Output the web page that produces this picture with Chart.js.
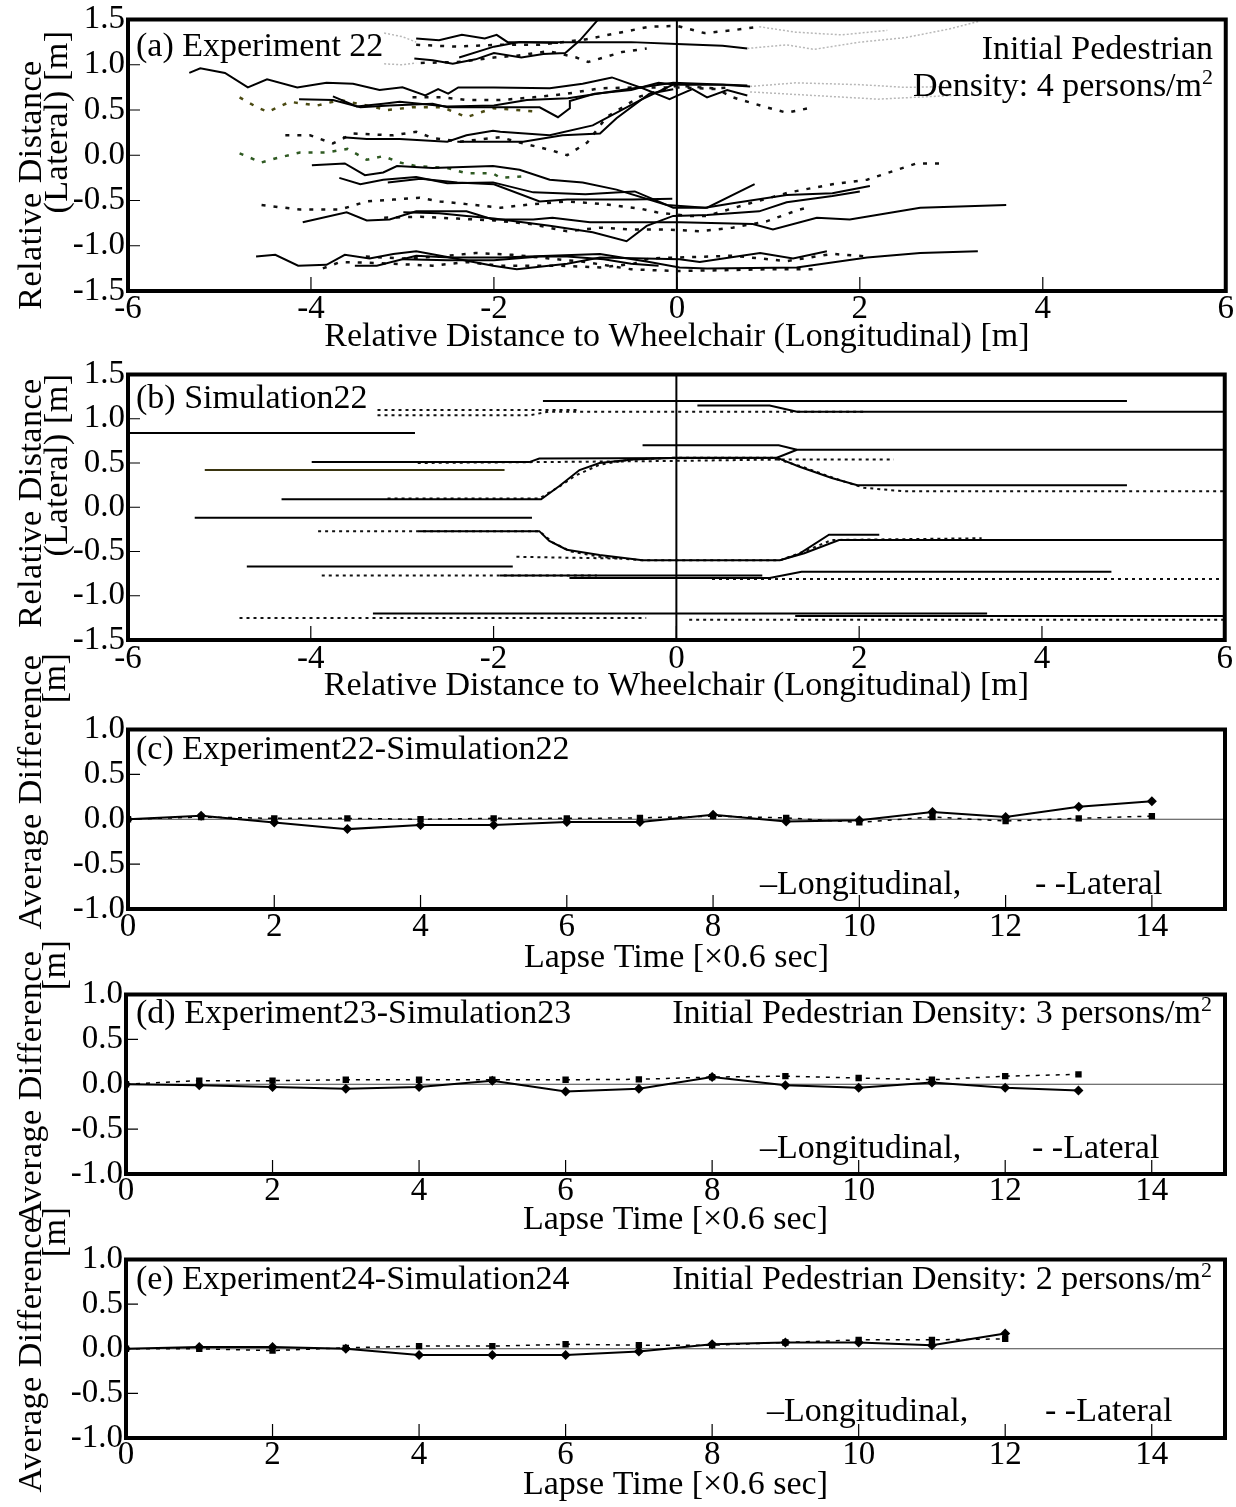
<!doctype html>
<html>
<head>
<meta charset="utf-8">
<script src="https://cdn.jsdelivr.net/npm/chart.js@4.4.1/dist/chart.umd.min.js"></script>
<style>
* { margin:0; padding:0; box-sizing:border-box; }
html,body { width:1236px; height:1507px; overflow:hidden; background:#fff;
  font-family:'Liberation Serif','Times New Roman',serif; color:#000; }
canvas { position:absolute; left:0; }
.t { position:absolute; white-space:nowrap; font-size:34px; line-height:1; }
.r { text-align:right; }
.rot { transform:translate(-50%,-50%) rotate(-90deg); letter-spacing:0.5px; }
sup { font-size:22px; vertical-align:12px; line-height:0; }
</style>
</head>
<body>
<canvas id="pa" width="1236" height="355" style="top:0px"></canvas>
<canvas id="pb" width="1236" height="355" style="top:355px"></canvas>
<canvas id="pc" width="1236" height="265" style="top:710px"></canvas>
<canvas id="pd" width="1236" height="265" style="top:975px"></canvas>
<canvas id="pe" width="1236" height="267" style="top:1240px"></canvas>

<!-- y axis titles -->
<div class="t rot" style="left:30px;top:185px">Relative Distance</div>
<div class="t rot" style="left:56px;top:122px">(Lateral) [m]</div>
<div class="t rot" style="left:30px;top:503px">Relative Distance</div>
<div class="t rot" style="left:56px;top:465px">(Lateral) [m]</div>
<div class="t rot" style="left:30px;top:792px">Average Difference</div>
<div class="t rot" style="left:54px;top:678px">[m]</div>
<div class="t rot" style="left:30px;top:1088px">Average Difference</div>
<div class="t rot" style="left:54px;top:965px">[m]</div>
<div class="t rot" style="left:30px;top:1355px">Average Difference</div>
<div class="t rot" style="left:54px;top:1232px">[m]</div>

<!-- panel notes -->
<div class="t" style="left:136px;top:28px">(a) Experiment 22</div>
<div class="t r" style="right:23px;top:31px">Initial Pedestrian</div>
<div class="t r" style="right:23px;top:68px">Density: 4 persons/m<sup>2</sup></div>
<div class="t" style="left:136px;top:380px">(b) Simulation22</div>
<div class="t" style="left:136px;top:731px">(c) Experiment22-Simulation22</div>
<div class="t" style="left:760px;top:866px">–Longitudinal,</div>
<div class="t" style="left:1035px;top:866px">- -Lateral</div>
<div class="t" style="left:136px;top:995px">(d) Experiment23-Simulation23</div>
<div class="t r" style="right:24px;top:995px">Initial Pedestrian Density: 3 persons/m<sup>2</sup></div>
<div class="t" style="left:760px;top:1130px">–Longitudinal,</div>
<div class="t" style="left:1032px;top:1130px">- -Lateral</div>
<div class="t" style="left:136px;top:1261px">(e) Experiment24-Simulation24</div>
<div class="t r" style="right:24px;top:1261px">Initial Pedestrian Density: 2 persons/m<sup>2</sup></div>
<div class="t" style="left:767px;top:1393px">–Longitudinal,</div>
<div class="t" style="left:1045px;top:1393px">- -Lateral</div>

<script>
// tick values
const posTicks = [-6, -4, -2, 0, 2, 4, 6];
const latTicks = [-1.5, -1.0, -0.5, 0.0, 0.5, 1.0, 1.5];
const lapseTicks = [0, 2, 4, 6, 8, 10, 12, 14];
const diffTicks = [-1.0, -0.5, 0.0, 0.5, 1.0];

// (a) experiment 22 trajectories, [longitudinal, lateral] in m
const expSolid = [
  [[-2.85,1.29],[-2.6,1.27],[-2.35,1.33],[-2.1,1.29],[-1.97,1.33],[-1.85,1.25],[-1.5,1.25],[-1.0,1.25],[-0.5,1.25],[0.0,1.23],[0.5,1.21],[0.77,1.18]],
  [[-2.87,1.07],[-2.67,1.05],[-2.45,1.01],[-2.2,1.06],[-2.0,1.13],[-1.7,1.08],[-1.46,1.12],[-1.22,1.13],[-1.06,1.27],[-0.86,1.5],[-0.82,1.56]],
  [[-2.38,1.08],[-2.0,1.2],[-1.72,1.25],[-1.3,1.24]],
  [[-5.33,0.91],[-5.21,0.96],[-4.94,0.91],[-4.69,0.75],[-4.48,0.84],[-4.15,0.75],[-3.83,0.8],[-3.54,0.79],[-3.25,0.72],[-3.0,0.75],[-2.75,0.66],[-2.61,0.73],[-2.5,0.68],[-2.39,0.75],[-2.0,0.75],[-1.39,0.74],[-1.03,0.79],[-0.71,0.86],[-0.4,0.75],[-0.04,0.8],[0.77,0.77]],
  [[-4.13,0.62],[-3.76,0.61],[-3.46,0.53],[-3.14,0.55],[-2.67,0.57],[-2.51,0.53],[-2.0,0.53],[-1.5,0.53],[-1.3,0.42],[-1.17,0.52],[-1.17,0.6],[-0.9,0.68],[-0.5,0.72],[-0.2,0.8],[0.0,0.78],[0.5,0.78],[0.8,0.76]],
  [[-3.76,0.65],[-3.5,0.54],[-3.21,0.57],[-3.03,0.59],[-2.51,0.54],[-2.0,0.55],[-1.64,0.61],[-1.19,0.63],[-0.6,0.72],[-0.4,0.75],[-0.08,0.62],[0.03,0.67],[0.17,0.73],[0.33,0.64],[0.55,0.72],[0.77,0.66]],
  [[-3.65,0.2],[-3.39,0.18],[-3.03,0.18],[-2.51,0.15],[-2.3,0.22],[-2.01,0.27],[-1.93,0.26],[-1.39,0.22],[-0.92,0.33],[-0.4,0.61],[0.0,0.8]],
  [[-2.4,0.15],[-2.01,0.15],[-1.68,0.15],[-1.25,0.22],[-0.84,0.24],[-0.66,0.41],[-0.3,0.68],[-0.04,0.73]],
  [[-3.99,-0.11],[-3.63,-0.09],[-3.41,-0.22],[-3.21,-0.19],[-3.06,-0.12],[-2.67,-0.14],[-2.01,-0.12],[-1.72,-0.16],[-1.39,-0.27],[-1.03,-0.3],[-0.66,-0.38],[-0.11,-0.55],[0.31,-0.58],[0.61,-0.53],[1.2,-0.44],[1.7,-0.42],[2.11,-0.34]],
  [[-3.69,-0.25],[-3.46,-0.32],[-3.21,-0.27],[-2.85,-0.24],[-2.51,-0.31],[-2.01,-0.3],[-1.57,-0.41],[-1.0,-0.43],[-0.62,-0.41],[-0.46,-0.4],[-0.04,-0.58],[0.33,-0.58],[0.85,-0.32]],
  [[-3.16,-0.3],[-2.8,-0.26],[-2.4,-0.3],[-2.0,-0.32],[-1.5,-0.51],[-1.2,-0.49],[-0.48,-0.49],[-0.05,-0.48]],
  [[-4.09,-0.74],[-3.61,-0.63],[-3.39,-0.72],[-3.14,-0.71],[-2.85,-0.62],[-2.3,-0.62],[-2.01,-0.71],[-1.57,-0.71],[-1.36,-0.69],[-0.95,-0.74],[-0.22,-0.74],[0.03,-0.74],[0.83,-0.76],[1.05,-0.82],[1.53,-0.69],[1.89,-0.71],[2.66,-0.58],[3.6,-0.55]],
  [[-2.99,-0.63],[-2.6,-0.64],[-2.3,-0.67],[-2.0,-0.7],[-1.39,-0.78],[-0.92,-0.85],[-0.55,-0.95],[-0.33,-0.78],[-0.04,-0.67],[0.33,-0.66],[0.9,-0.62],[1.2,-0.52],[1.7,-0.45],[2.0,-0.4]],
  [[-4.6,-1.12],[-4.39,-1.1],[-4.14,-1.22],[-3.83,-1.21],[-3.63,-1.1],[-3.36,-1.14],[-3.1,-1.09],[-2.85,-1.06],[-2.48,-1.13],[-1.93,-1.13],[-0.84,-1.09],[-0.3,-1.18],[0.03,-1.24],[0.33,-1.25],[1.31,-1.24],[2.08,-1.13],[2.66,-1.08],[3.29,-1.06]],
  [[-3.52,-1.22],[-3.28,-1.22],[-2.85,-1.11],[-2.48,-1.13],[-2.01,-1.22],[-1.75,-1.26],[-1.2,-1.2],[-0.84,-1.13],[0.03,-1.15],[0.25,-1.18],[0.91,-1.08],[1.27,-1.14],[1.64,-1.06]],
  [[-3.0,-1.15],[-2.5,-1.16],[-2.0,-1.16],[-1.5,-1.12],[-1.2,-1.12],[-0.8,-1.15],[-0.5,-1.2],[-0.2,-1.22]]
];
const expDashed = [
  [[-2.85,1.22],[-2.4,1.2],[-2.0,1.22],[-1.5,1.22],[-1.0,1.28],[-0.6,1.36],[-0.3,1.42],[0.0,1.43],[0.3,1.35],[0.6,1.38],[0.9,1.42]],
  [[-2.8,1.02],[-2.4,1.03],[-2.0,1.08],[-1.75,1.1],[-1.4,1.15],[-1.1,1.08],[-0.97,1.03],[-0.6,1.14],[-0.33,1.18]],
  [[-2.89,0.64],[-2.56,0.64],[-2.3,0.61],[-1.93,0.61],[-1.57,0.64],[-1.2,0.68],[-0.84,0.74],[-0.4,0.75],[0.03,0.75],[0.44,0.73],[0.61,0.64],[0.98,0.53],[1.2,0.47],[1.49,0.53]],
  [[-4.28,0.22],[-4.01,0.22],[-3.76,0.13],[-3.54,0.24],[-3.1,0.22],[-2.85,0.26],[-2.67,0.19],[-2.37,0.15],[-1.93,0.2],[-1.72,0.14],[-1.39,0.06],[-1.2,0.0],[-0.98,0.14],[-0.77,0.42],[-0.4,0.65],[0.0,0.77],[0.39,0.74],[0.61,0.75]],
  [[-4.54,-0.55],[-4.12,-0.6],[-3.68,-0.6],[-3.39,-0.51],[-3.1,-0.49],[-2.81,-0.47],[-2.59,-0.51],[-2.3,-0.54],[-1.93,-0.58],[-1.57,-0.54],[-1.2,-0.51],[-0.8,-0.54],[-0.4,-0.59],[-0.22,-0.63],[0.11,-0.67],[0.33,-0.67],[0.8,-0.53],[1.23,-0.41],[1.7,-0.32],[2.08,-0.27],[2.62,-0.09],[2.9,-0.09]],
  [[-3.2,-0.69],[-2.8,-0.68],[-2.4,-0.7],[-2.0,-0.72],[-1.6,-0.76],[-1.2,-0.84],[-0.84,-0.8],[-0.48,-0.82],[-0.11,-0.82],[0.25,-0.84],[0.61,-0.8],[0.98,-0.73],[1.34,-0.6],[1.42,-0.58]],
  [[-3.87,-1.25],[-3.68,-1.18],[-3.3,-1.19],[-3.1,-1.2],[-2.67,-1.22],[-2.3,-1.18],[-1.93,-1.22],[-1.3,-1.22],[-0.84,-1.24],[-0.48,-1.2],[-0.3,-1.14],[0.03,-1.13],[0.61,-1.11],[1.2,-1.17],[1.7,-1.09],[2.11,-1.12]],
  [[-3.4,-1.12],[-3.0,-1.14],[-2.6,-1.12],[-2.2,-1.08],[-1.8,-1.1],[-1.4,-1.14],[-1.0,-1.18],[-0.5,-1.26],[0.0,-1.28],[0.5,-1.27],[1.0,-1.26],[1.5,-1.26]]
];
const expOlive = [[-4.78,0.64],[-4.59,0.53],[-4.47,0.48],[-4.23,0.59],[-3.93,0.55],[-3.68,0.61],[-3.39,0.55],[-3.17,0.5],[-2.89,0.53],[-2.56,0.53],[-2.3,0.42],[-2.01,0.52],[-1.5,0.48]];
const expGreen = [[-4.78,0.02],[-4.54,-0.08],[-4.37,-0.03],[-4.12,0.03],[-3.83,0.03],[-3.6,0.07],[-3.39,-0.05],[-3.21,-0.01],[-3.03,-0.08],[-2.85,-0.12],[-2.51,-0.14],[-2.3,-0.2],[-2.01,-0.2],[-1.93,-0.25],[-1.64,-0.23]];
const expGray = [
  [[-3.2,1.35],[-3.0,1.31],[-2.85,1.25]],
  [[-3.2,1.01],[-3.0,1.0],[-2.85,1.02]],
  [[0.77,1.18],[1.2,1.22],[1.5,1.17],[2.0,1.25],[2.5,1.3],[3.0,1.4],[3.3,1.48]],
  [[0.9,1.42],[1.3,1.36],[1.8,1.33],[2.3,1.38]],
  [[0.8,0.76],[1.3,0.8],[2.0,0.78],[2.5,0.75],[3.0,0.76]],
  [[0.8,0.7],[1.5,0.66],[2.2,0.62],[3.0,0.66]]
];

// (b) simulation 22 trajectories
const simSolid = [
  [[-1.46,1.2],[4.93,1.2]],
  [[0.23,1.15],[1.02,1.15],[1.32,1.08],[6,1.08]],
  [[-6,0.84],[-2.86,0.84]],
  [[-0.37,0.7],[1.12,0.7],[1.32,0.65],[6,0.65]],
  [[-3.99,0.51],[-1.61,0.51],[-1.5,0.55],[1.1,0.56],[1.32,0.65]],
  [[-4.32,0.09],[-1.48,0.09],[-1.28,0.24],[-1.06,0.42],[-0.84,0.5],[-0.48,0.54],[0.0,0.56],[1.1,0.56],[1.34,0.46],[1.7,0.33],[1.98,0.25],[4.93,0.25]],
  [[-5.27,-0.12],[-1.58,-0.12]],
  [[-2.82,-0.27],[-1.5,-0.27],[-1.39,-0.38],[-1.2,-0.48],[-0.84,-0.54],[-0.37,-0.6],[1.13,-0.6],[1.34,-0.53],[1.67,-0.31],[2.22,-0.31]],
  [[1.13,-0.6],[1.4,-0.52],[1.78,-0.37],[6,-0.37]],
  [[-4.7,-0.67],[-1.79,-0.67]],
  [[-1.93,-0.77],[0.94,-0.77]],
  [[-1.17,-0.8],[1.02,-0.8],[1.37,-0.73],[4.76,-0.73]],
  [[-3.32,-1.2],[3.4,-1.2]],
  [[1.3,-1.23],[6,-1.23]]
];
const simOlive = [[-5.16,0.42],[-1.88,0.42]];
const simDashed = [
  [[-3.27,1.1],[-1.09,1.1]],
  [[-3.27,1.04],[-1.6,1.04],[-1.4,1.08],[2.08,1.08]],
  [[-2.83,0.5],[-0.33,0.52],[1.2,0.54],[2.38,0.54]],
  [[-3.16,0.1],[-1.5,0.1],[-1.3,0.22],[-1.1,0.36],[-0.84,0.48],[-0.5,0.54],[0.0,0.56],[1.05,0.56],[1.4,0.45],[1.75,0.32],[2.05,0.22],[2.5,0.18],[6,0.18]],
  [[-3.92,-0.27],[-1.5,-0.27],[-1.35,-0.4],[-1.15,-0.5],[-0.84,-0.56],[-0.37,-0.6],[1.13,-0.6],[1.4,-0.5],[1.7,-0.37],[3.34,-0.35]],
  [[-1.75,-0.56],[-0.6,-0.58]],
  [[-3.88,-0.77],[-0.87,-0.77]],
  [[0.39,-0.81],[6,-0.81]],
  [[-4.78,-1.25],[-0.33,-1.25]],
  [[0.14,-1.27],[6,-1.27]]
];

// (c)-(e) average differences per lapse step
const lapseC = [0,1,2,3,4,5,6,7,8,9,10,11,12,13,14];
const longC = [0.00,0.04,-0.035,-0.11,-0.065,-0.065,-0.03,-0.03,0.05,-0.025,-0.01,0.08,0.025,0.14,0.20];
const latC  = [0.00,0.025,0.01,0.01,0.00,0.01,0.01,0.015,0.035,0.015,-0.035,0.025,-0.02,0.01,0.035];
const lapseD = [0,1,2,3,4,5,6,7,8,9,10,11,12,13];
const longD = [0.00,-0.01,-0.03,-0.05,-0.03,0.04,-0.08,-0.05,0.08,-0.01,-0.04,0.02,-0.04,-0.07];
const latD  = [0.00,0.04,0.04,0.05,0.05,0.05,0.05,0.055,0.08,0.09,0.07,0.05,0.09,0.11];
const lapseE = [0,1,2,3,4,5,6,7,8,9,10,11,12];
const longE = [0.00,0.02,0.02,0.00,-0.07,-0.07,-0.07,-0.03,0.05,0.07,0.07,0.04,0.17];
const latE  = [0.00,0.00,-0.02,0.01,0.03,0.03,0.05,0.04,0.04,0.07,0.10,0.10,0.11];

const FAMILY = "'Liberation Serif','Times New Roman',serif";
const tickFont = { family: FAMILY, size: 33, lineHeight: 1 };
const titleFont = { family: FAMILY, size: 34, lineHeight: 1 };

// frame, inward ticks and the zero reference line
const frame = {
  id: 'frame',
  beforeDatasetsDraw(chart, args, o) {
    const { ctx, chartArea: a, scales: { x, y } } = chart;
    ctx.save();
    ctx.strokeStyle = '#000';
    if (o.zeroX) {
      ctx.lineWidth = 2;
      const px = x.getPixelForValue(0);
      ctx.beginPath(); ctx.moveTo(px, a.top); ctx.lineTo(px, a.bottom); ctx.stroke();
    }
    if (o.zeroY) {
      ctx.lineWidth = 1.2; ctx.strokeStyle = '#444';
      const py = y.getPixelForValue(0);
      ctx.beginPath(); ctx.moveTo(a.left, py); ctx.lineTo(a.right, py); ctx.stroke();
    }
    ctx.restore();
  },
  afterDatasetsDraw(chart) {
    const { ctx, chartArea: a, scales: { x, y } } = chart;
    ctx.save();
    ctx.strokeStyle = '#000';
    ctx.lineWidth = 1.2;
    ctx.beginPath();
    x.ticks.forEach(t => { const px = x.getPixelForValue(t.value); ctx.moveTo(px, a.bottom); ctx.lineTo(px, a.bottom - 14); });
    y.ticks.forEach(t => { const py = y.getPixelForValue(t.value); ctx.moveTo(a.left, py); ctx.lineTo(a.left + 12, py); });
    ctx.stroke();
    ctx.lineWidth = 4;
    ctx.strokeRect(a.left, a.top, a.right - a.left, a.bottom - a.top);
    ctx.restore();
  }
};

const toPts = arr => arr.map(([x, y]) => ({ x, y }));
const track = (arr, style) => Object.assign({ data: toPts(arr), showLine: true, pointRadius: 0, tension: 0, fill: false }, style);
const series = (xs, ys, style) => Object.assign({ data: xs.map((x, i) => ({ x, y: ys[i] })), showLine: true, tension: 0, fill: false }, style);

function panel(id, c) {
  return new Chart(document.getElementById(id), {
    type: 'scatter',
    data: { datasets: c.datasets },
    options: {
      responsive: false, animation: false, events: [],
      layout: { padding: { top: c.top, right: c.right, left: 0, bottom: 0 } },
      plugins: { legend: { display: false }, tooltip: { enabled: false }, frame: { zeroX: c.zeroX, zeroY: c.zeroY } },
      scales: {
        x: {
          type: 'linear', min: c.xMin, max: c.xMax,
          afterBuildTicks: s => { s.ticks = c.xTicks.map(v => ({ value: v })); },
          afterFit: s => { s.height = c.xH; },
          grid: { display: false, drawTicks: false }, border: { display: false },
          ticks: { color: '#000', font: tickFont, padding: c.xPad, maxRotation: 0, autoSkip: false, callback: v => String(v) },
          title: { display: true, text: c.xTitle, color: '#000', font: titleFont, padding: { top: 0, bottom: c.titlePad } }
        },
        y: {
          type: 'linear', min: c.yMin, max: c.yMax,
          afterBuildTicks: s => { s.ticks = c.yTicks.map(v => ({ value: v })); },
          afterFit: s => { s.width = c.left; },
          grid: { display: false, drawTicks: false }, border: { display: false },
          ticks: { color: '#000', font: tickFont, padding: 3, autoSkip: false, callback: v => Number(v).toFixed(1) }
        }
      }
    },
    plugins: [frame]
  });
}

const sSolid = { borderColor: '#000', borderWidth: 2 };
const sDash = { borderColor: '#111', borderWidth: 2.5, borderDash: [4, 8] };
const sGray = { borderColor: '#b8b8b8', borderWidth: 1.5, borderDash: [2, 2] };
const bDash = { borderColor: '#111', borderWidth: 2, borderDash: [3, 4] };

const posTitle = 'Relative Distance to Wheelchair (Longitudinal) [m]';
const lapseTitle = 'Lapse Time [\u00d70.6 sec]';

panel('pa', {
  top: 19, right: 10, left: 128, xH: 64, xPad: 2, titlePad: 1,
  xMin: -6, xMax: 6, yMin: -1.5, yMax: 1.5, xTicks: posTicks, yTicks: latTicks, xTitle: posTitle, zeroX: true,
  datasets: [
    ...expGray.map(t => track(t, sGray)),
    ...expSolid.map(t => track(t, sSolid)),
    ...expDashed.map(t => track(t, sDash)),
    track(expOlive, Object.assign({}, sDash, { borderColor: '#4b4a12' })),
    track(expGreen, Object.assign({}, sDash, { borderColor: '#2f5a22' }))
  ]
});

panel('pb', {
  top: 17, right: 10, left: 128, xH: 70, xPad: 3, titlePad: 7,
  xMin: -6, xMax: 6, yMin: -1.5, yMax: 1.5, xTicks: posTicks, yTicks: latTicks, xTitle: posTitle, zeroX: true,
  datasets: [
    ...simSolid.map(t => track(t, sSolid)),
    track(simOlive, { borderColor: '#3a3510', borderWidth: 2 }),
    ...simDashed.map(t => track(t, bDash))
  ]
});

function diffSets(xs, lon, lat) {
  return [
    series(xs, lat, { borderColor: '#000', borderWidth: 1.5, borderDash: [4, 6], pointStyle: 'rect', pointRadius: 4.5, pointBackgroundColor: '#000', pointBorderColor: '#000', pointBorderWidth: 0 }),
    series(xs, lon, { borderColor: '#000', borderWidth: 2, pointStyle: 'rectRot', pointRadius: 5, pointBackgroundColor: '#000', pointBorderColor: '#000', pointBorderWidth: 0 })
  ];
}

panel('pc', {
  top: 16, right: 11, left: 128, xH: 66, xPad: 2, titlePad: 0,
  xMin: 0, xMax: 15, yMin: -1, yMax: 1, xTicks: lapseTicks, yTicks: diffTicks, xTitle: lapseTitle, zeroY: true,
  datasets: diffSets(lapseC, longC, latC)
});
panel('pd', {
  top: 16, right: 11, left: 126, xH: 66, xPad: 1, titlePad: 3,
  xMin: 0, xMax: 15, yMin: -1, yMax: 1, xTicks: lapseTicks, yTicks: diffTicks, xTitle: lapseTitle, zeroY: true,
  datasets: diffSets(lapseD, longD, latD)
});
panel('pe', {
  top: 15, right: 11, left: 126, xH: 69, xPad: 1, titlePad: 5,
  xMin: 0, xMax: 15, yMin: -1, yMax: 1, xTicks: lapseTicks, yTicks: diffTicks, xTitle: lapseTitle, zeroY: true,
  datasets: diffSets(lapseE, longE, latE)
});
</script>
</body>
</html>
